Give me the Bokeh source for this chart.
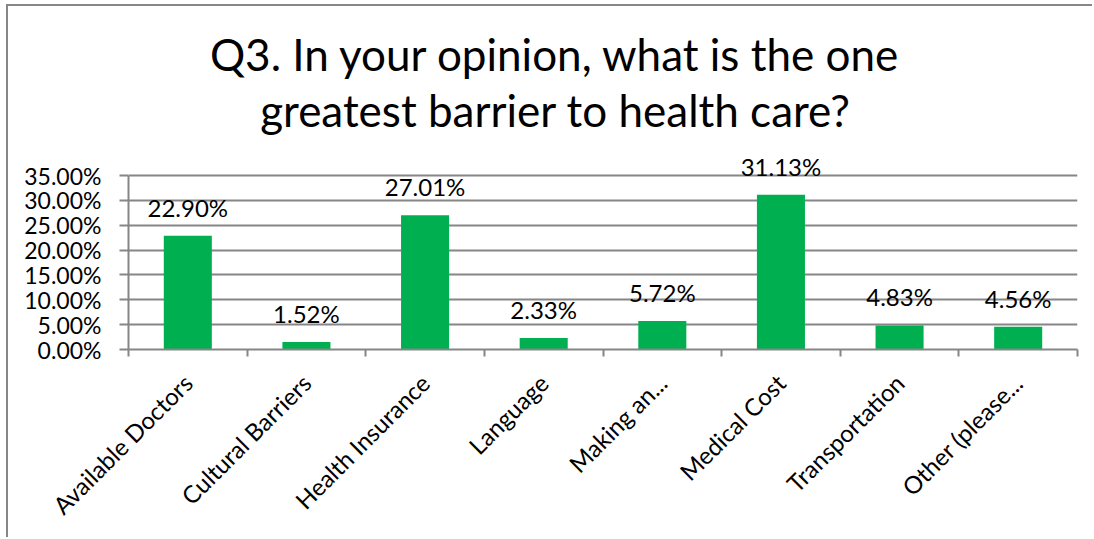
from bokeh.plotting import figure
from bokeh.models import Range1d, FixedTicker, Label, ColumnDataSource, LabelSet
from bokeh.core.properties import value
from bokeh.embed import file_html
from bokeh.resources import INLINE
import math

categories = ["Available Doctors", "Cultural Barriers", "Health Insurance", "Language",
              "Making an...", "Medical Cost", "Transportation", "Other (please..."]
percentages = [22.90, 1.52, 27.01, 2.33, 5.72, 31.13, 4.83, 4.56]
y_ticks = [0, 5, 10, 15, 20, 25, 30, 35]
title_lines = ["Q3. In your opinion, what is the one", "greatest barrier to health care?"]

FONT = "Lato"
GRAY = "#868686"
GREEN = "#00B050"

W, H = 1086, 533
BORDER_BOTTOM = 190
FRAME_H = H - BORDER_BOTTOM          # frame spans from canvas top to x axis
PX_PER_UNIT = 174 / 35.0             # 35% gridline sits 174 px above the axis
Y_TOP = FRAME_H / PX_PER_UNIT

p = figure(width=W, height=H, output_backend="svg", toolbar_location=None,
           x_range=Range1d(0, len(categories)), y_range=Range1d(0, Y_TOP),
           min_border_left=120, min_border_right=17, min_border_top=0,
           min_border_bottom=BORDER_BOTTOM)
p.styles = {"border-left": "2px solid #878787", "border-top": "2px solid #878787",
            "margin-left": "6px", "margin-top": "4px"}
p.outline_line_color = None
p.background_fill_color = "white"
p.border_fill_color = "white"

xs = [i + 0.5 for i in range(len(categories))]
src = ColumnDataSource(dict(x=xs, top=percentages,
                            label=["%.2f%%" % v for v in percentages]))
p.vbar(x="x", top="top", width=0.405, bottom=0, source=src, fill_color=GREEN, line_color=None)

labels = LabelSet(x="x", y="top", text="label", source=src, text_align="center",
                  text_baseline="alphabetic", y_offset=19,
                  text_font=value(FONT), text_font_size="24px", text_color="black")
p.add_layout(labels)

# x axis
xa = p.xaxis[0]
xa.ticker = FixedTicker(ticks=xs, minor_ticks=list(range(len(categories) + 1)))
xa.major_label_overrides = {x: c for x, c in zip(xs, categories)}
xa.major_label_orientation = math.pi / 4
xa.major_tick_line_color = None
xa.minor_tick_line_color = GRAY
xa.minor_tick_line_width = 2
xa.minor_tick_in = 0
xa.minor_tick_out = 7
xa.axis_line_color = GRAY
xa.axis_line_width = 2
xa.major_label_text_font = FONT
xa.major_label_text_font_size = "24px"
xa.major_label_text_color = "black"
xa.major_label_standoff = 22

# y axis
ya = p.yaxis[0]
ya.ticker = FixedTicker(ticks=y_ticks)
ya.bounds = (0, 35)
ya.major_label_overrides = {t: "%.2f%%" % t for t in y_ticks}
ya.minor_tick_line_color = None
ya.major_tick_line_color = GRAY
ya.major_tick_line_width = 2
ya.major_tick_in = 0
ya.major_tick_out = 9
ya.axis_line_color = GRAY
ya.axis_line_width = 2
ya.major_label_text_font = FONT
ya.major_label_text_font_size = "23px"
ya.major_label_text_color = "black"
ya.major_label_standoff = 18

p.xgrid.grid_line_color = None
p.ygrid.grid_line_color = GRAY
p.ygrid.grid_line_width = 2
p.ygrid.bounds = (0, 35)

# title (screen offsets relative to the plot frame)
for line, yb in zip(title_lines, [296, 240]):
    p.add_layout(Label(x=427, y=yb, x_units="screen", y_units="screen", text=line,
                       text_align="center", text_baseline="alphabetic",
                       text_font=FONT, text_font_size="44px", text_color="black"))

open("out.html", "w").write(file_html(p, INLINE))
